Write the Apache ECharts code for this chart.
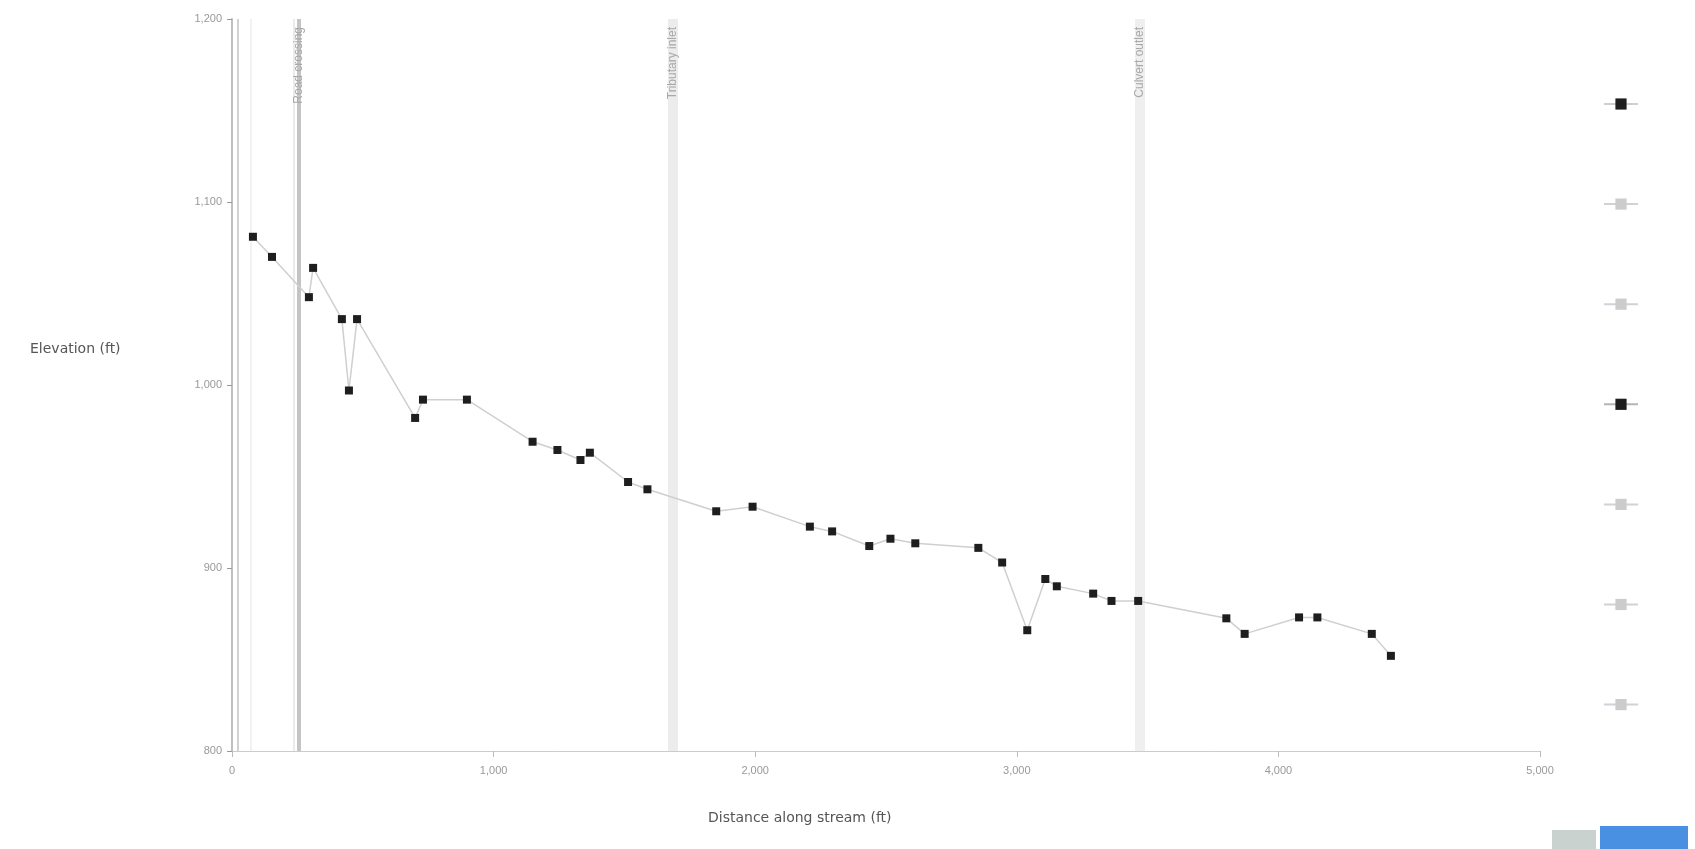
<!DOCTYPE html>
<html>
<head>
<meta charset="utf-8">
<script src="https://cdn.jsdelivr.net/npm/echarts@6/dist/echarts.min.js"></script>
<style>
  html, body { margin: 0; padding: 0; background: #ffffff; }
  #chart { width: 1695px; height: 849px; }
</style>
</head>
<body>
<div id="chart"></div>
<script>
// ---- data ----
const distances = [80, 153, 294, 310, 420, 447, 478, 700, 730, 898, 1149, 1244, 1332, 1368, 1514, 1588,
  1851, 1990, 2209, 2294, 2436, 2517, 2612, 2853, 2944, 3040, 3109, 3153, 3292, 3362, 3464, 3801,
  3871, 4079, 4149, 4357, 4430];
const elevations = [1081, 1070, 1048, 1064, 1036, 997, 1036, 982, 992, 992, 969, 964.5, 959, 963, 947, 943,
  931, 933.5, 922.6, 920, 912, 916, 913.5, 911, 903, 866, 894, 890, 886, 882, 882, 872.5,
  864, 873, 873, 864, 852];
const seriesNames = ['Survey 1', 'Survey 2', 'Survey 3', 'Survey 4', 'Survey 5', 'Survey 6', 'Survey 7'];
const activeSeries = ['Survey 1', 'Survey 4'];
const featureNames = ['Road crossing', 'Tributary inlet', 'Culvert outlet'];
const featureDistances = [254, 1686, 3471];
const minorLineDistances = [23, 73, 236];
const xTicks = { min: 0, max: 5000, interval: 1000 };
const yTicks = { min: 800, max: 1200, interval: 100 };
const yTitle = 'Elevation (ft)';
const xTitle = 'Distance along stream (ft)';

const points = distances.map((d, i) => [d, elevations[i]]);

const featureStyles = [
  { color: '#c4c4c4', width: 4 },
  { color: '#ececec', width: 10 },
  { color: '#efefef', width: 10 }
];
const minorStyles = [
  { color: '#d2d2d2', width: 2 },
  { color: '#eeeeee', width: 1.5 },
  { color: '#e4e4e4', width: 1.5 }
];

const markLineData = featureDistances.map((d, i) => ({
  xAxis: d,
  name: featureNames[i],
  lineStyle: { color: featureStyles[i].color, width: featureStyles[i].width, type: 'solid' },
  label: { show: true, formatter: featureNames[i], position: 'insideEnd', color: '#a8a8a8', fontSize: 12, distance: 8 }
})).concat(minorLineDistances.map((d, i) => ({
  xAxis: d,
  lineStyle: { color: minorStyles[i].color, width: minorStyles[i].width, type: 'solid' },
  label: { show: false }
})));

const selected = {};
seriesNames.forEach(n => { selected[n] = activeSeries.indexOf(n) >= 0; });

const series = seriesNames.map((name, idx) => {
  const s = {
    name: name,
    type: 'line',
    data: idx === 0 ? points : [],
    symbol: 'rect',
    symbolSize: 8,
    showSymbol: true,
    lineStyle: { color: idx === 0 ? '#cfcfcf' : '#b5b5b5', width: 1.5 },
    itemStyle: { color: '#1e1e1e' },
    animation: false,
    z: 5
  };
  if (idx === 0) {
    s.markLine = {
      silent: true,
      symbol: ['none', 'none'],
      animation: false,
      z: 1,
      data: markLineData
    };
  }
  return s;
});

const chart = echarts.init(document.getElementById('chart'));
chart.setOption({
  backgroundColor: '#ffffff',
  animation: false,
  grid: { left: 232, right: 155, top: 19, bottom: 98, containLabel: false },
  xAxis: {
    type: 'value',
    min: xTicks.min, max: xTicks.max, interval: xTicks.interval,
    axisLine: { show: true, lineStyle: { color: '#cccccc', width: 1 } },
    axisTick: { show: true, length: 6, lineStyle: { color: '#bbbbbb' } },
    axisLabel: { color: '#999999', fontSize: 11, margin: 14 },
    splitLine: { show: false }
  },
  yAxis: {
    type: 'value',
    min: yTicks.min, max: yTicks.max, interval: yTicks.interval,
    axisLine: { show: true, lineStyle: { color: '#c0c0c0', width: 2 } },
    axisTick: { show: true, length: 5, lineStyle: { color: '#999999' } },
    axisLabel: { color: '#999999', fontSize: 11, margin: 10 },
    splitLine: { show: false }
  },
  legend: {
    orient: 'vertical',
    left: 1598,
    top: 92,
    itemWidth: 34,
    itemHeight: 14,
    itemGap: 87.5,
    selected: selected,
    inactiveColor: '#cccccc',
    formatter: () => '',
    data: seriesNames
  },
  graphic: [
    {
      type: 'text', left: 30, top: 342,
      style: { text: yTitle, fill: '#555555', font: '14px "DejaVu Sans", sans-serif' }
    },
    {
      type: 'text', left: 708, top: 811,
      style: { text: xTitle, fill: '#555555', font: '14px "DejaVu Sans", sans-serif' }
    },
    {
      type: 'rect', shape: { x: 1600, y: 826, width: 88, height: 23 },
      style: { fill: '#4a90e2' }
    },
    {
      type: 'rect', shape: { x: 1552, y: 830, width: 44, height: 19 },
      style: { fill: '#c9d2cf' }
    }
  ],
  series: series
});
</script>
</body>
</html>
